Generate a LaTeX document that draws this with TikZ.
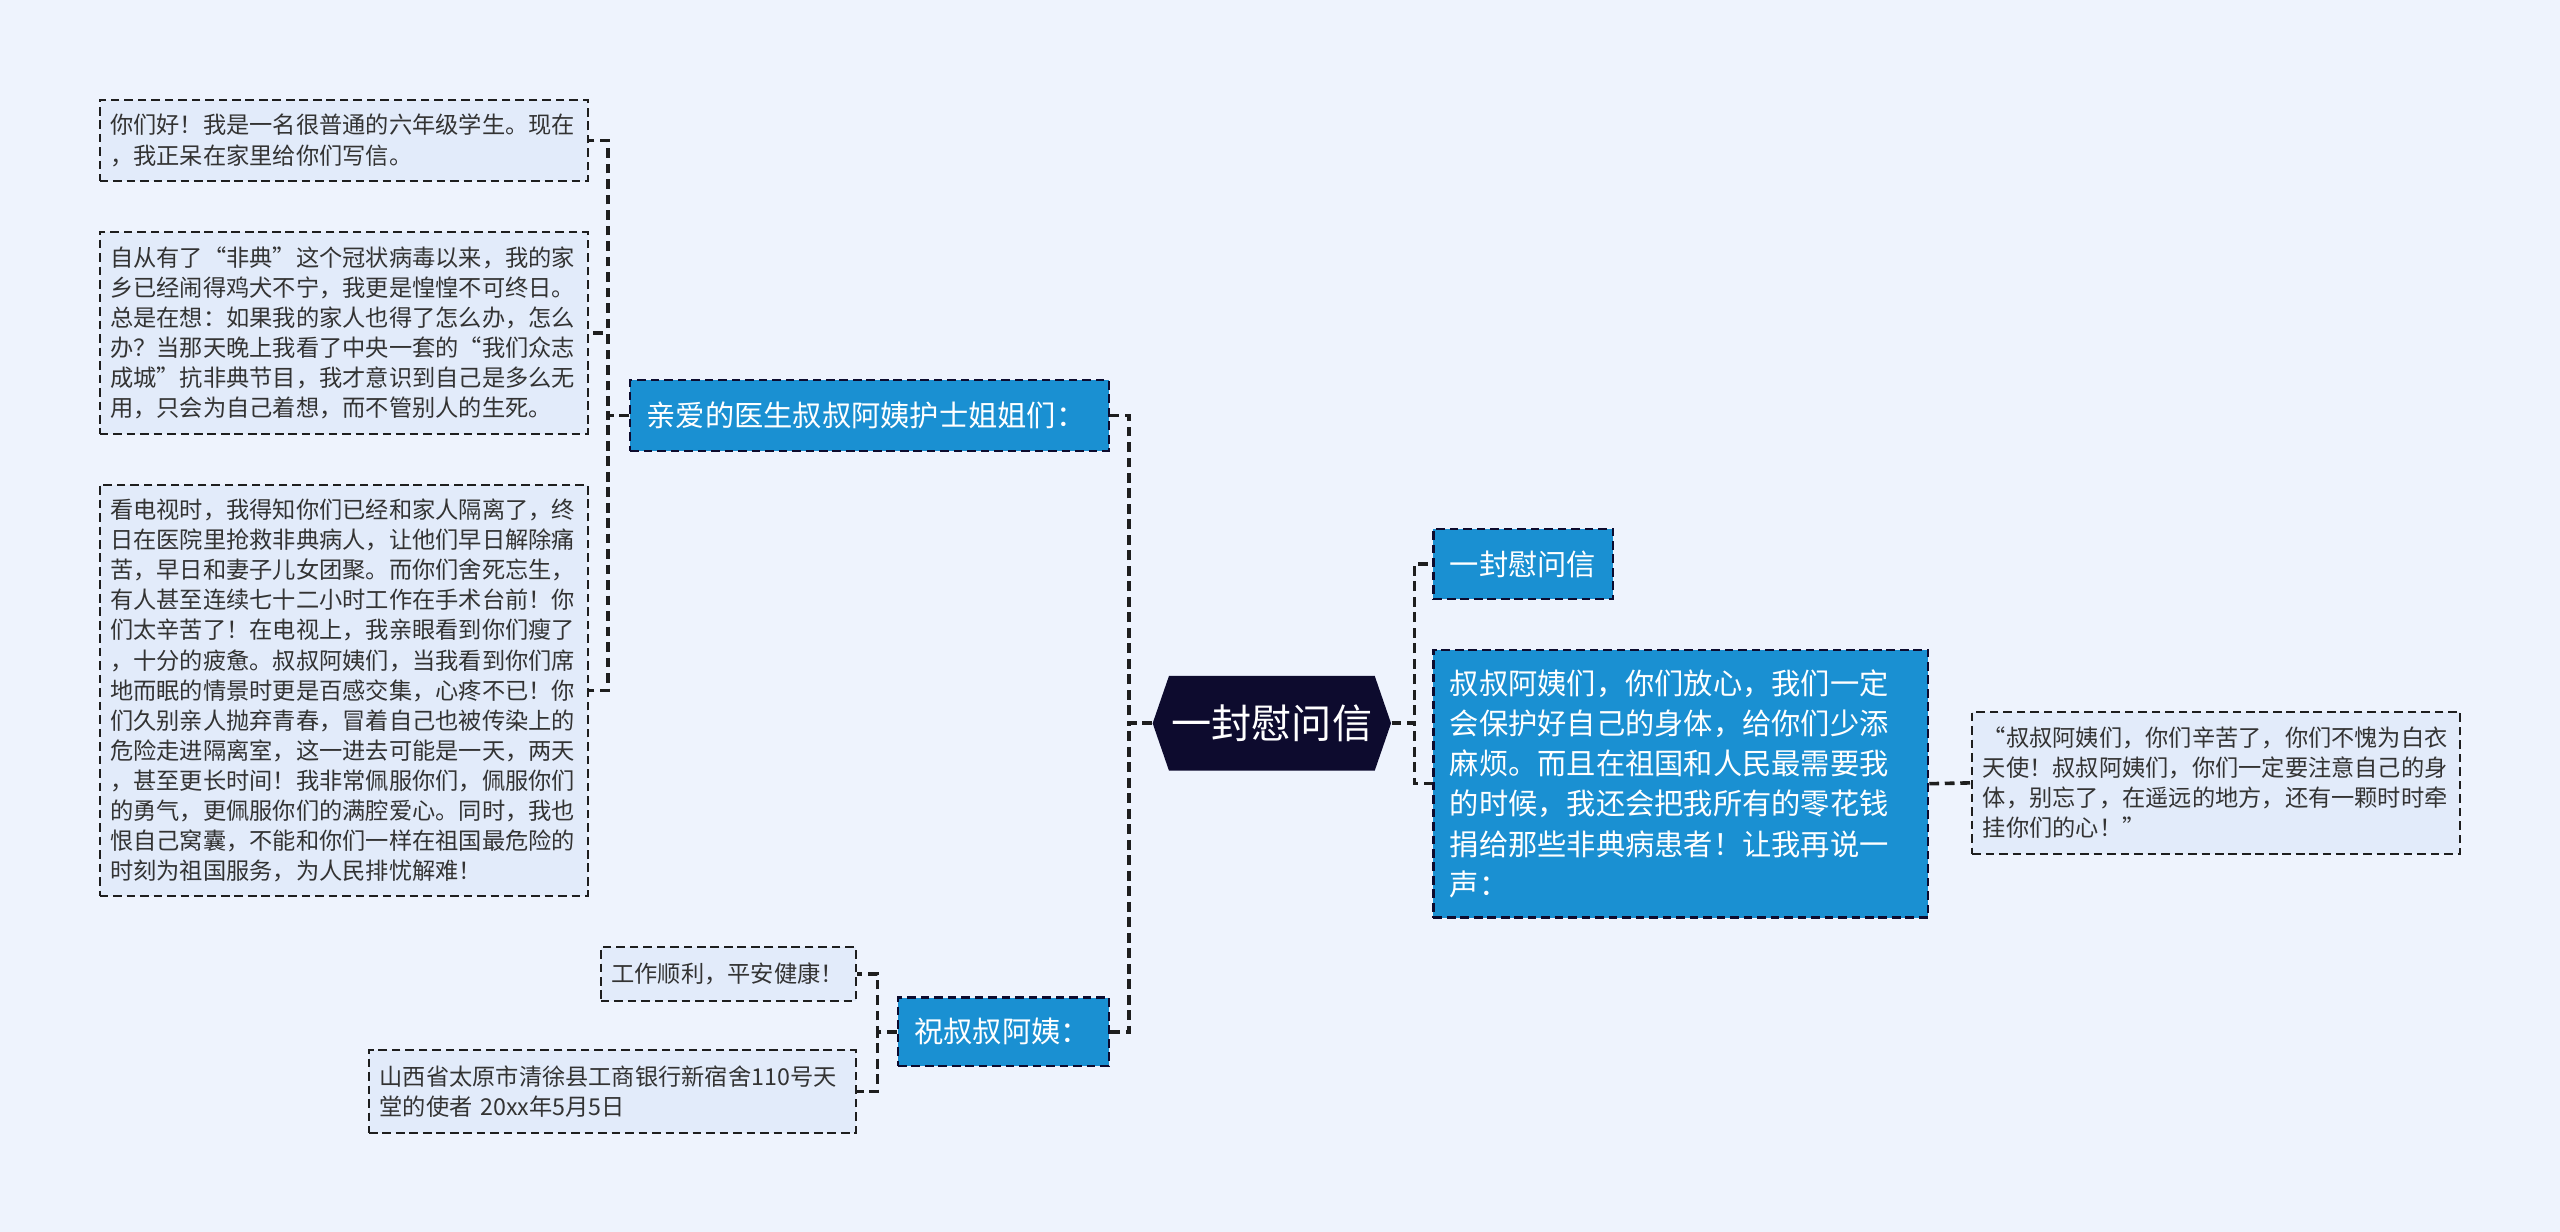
\documentclass[tikz,border=0pt]{standalone}
\usepackage{fontspec}
\setmainfont{Noto Sans CJK SC}
\usetikzlibrary{shapes.symbols}
\definecolor{bgblue}{HTML}{EEF3FD}
\definecolor{leaffill}{HTML}{E2EBFA}
\definecolor{subblue}{HTML}{1A90D2}
\definecolor{rootnavy}{HTML}{0D0B2E}
\definecolor{edgegray}{HTML}{1E1E1E}
\definecolor{textgray}{HTML}{333333}
\begin{document}
\begin{tikzpicture}
            \tikzstyle{every node} = [inner ysep=0pt]
            \tikzstyle{lk} = [draw=edgegray, line width=1.25pt, dash pattern=on 3.4pt off 2pt]
            \tikzstyle{root} = [signal, signal to=west and east, signal pointer angle=142, fill=rootnavy, text=white, font=\fontsize{14}{16}\selectfont, minimum width=2.92cm, minimum height=1.16cm, inner xsep=0pt]
            \tikzstyle{sub} = [draw=rootnavy, line width=0.75pt, dash pattern=on 3pt off 1.7pt, fill=subblue, text=white, font=\fontsize{10.2}{14}\selectfont, align=left, inner xsep=0.2cm]
            \tikzstyle{leaf} = [draw=edgegray, line width=0.7pt, dash pattern=on 3pt off 1.7pt, fill=leaffill, text=textgray, font=\fontsize{8.1}{10.5}\selectfont, align=left, inner xsep=0.13cm]
            \fill[bgblue] (0,0) rectangle (31.36,-15.09);
            \node[root] (c) at (15.58,-8.86) {一封慰问信};
            \node[sub, text width=1.8cm, minimum height=0.86cm] (b1) at (18.66,-6.91) {一封慰问信};
            \node[sub, text width=5.66cm, minimum height=3.28cm] (b2) at (20.59,-9.6) {叔叔阿姨们，你们放心，我们一定\\会保护好自己的身体，给你们少添\\麻烦。而且在祖国和人民最需要我\\的时候，我还会把我所有的零花钱\\捐给那些非典病患者！让我再说一\\声：};
            \node[sub, text width=5.46cm, minimum height=0.86cm] (b3) at (10.65,-5.09) {亲爱的医生叔叔阿姨护士姐姐们：};
            \node[sub, text width=2.18cm, minimum height=0.84cm] (b4) at (12.29,-12.64) {祝叔叔阿姨：};
            \node[leaf, text width=5.72cm, minimum height=1.74cm] (l0) at (27.15,-9.59) {“叔叔阿姨们，你们辛苦了，你们不愧为白衣\\天使！叔叔阿姨们，你们一定要注意自己的身\\体，别忘了，在遥远的地方，还有一颗时时牵\\挂你们的心！”};
            \node[leaf, text width=5.72cm, minimum height=1.0cm] (l1) at (4.21,-1.72) {你们好！我是一名很普通的六年级学生。现在\\，我正呆在家里给你们写信。};
            \node[leaf, text width=5.72cm, minimum height=2.48cm] (l2) at (4.21,-4.08) {自从有了“非典”这个冠状病毒以来，我的家\\乡已经闹得鸡犬不宁，我更是惶惶不可终日。\\总是在想：如果我的家人也得了怎么办，怎么\\办？当那天晚上我看了中央一套的“我们众志\\成城”抗非典节目，我才意识到自己是多么无\\用，只会为自己着想，而不管别人的生死。};
            \node[leaf, text width=5.72cm, minimum height=5.04cm] (l3) at (4.21,-8.46) {看电视时，我得知你们已经和家人隔离了，终\\日在医院里抢救非典病人，让他们早日解除痛\\苦，早日和妻子儿女团聚。而你们舍死忘生，\\有人甚至连续七十二小时工作在手术台前！你\\们太辛苦了！在电视上，我亲眼看到你们瘦了\\，十分的疲惫。叔叔阿姨们，当我看到你们席\\地而眠的情景时更是百感交集，心疼不已！你\\们久别亲人抛弃青春，冒着自己也被传染上的\\危险走进隔离室，这一进去可能是一天，两天\\，甚至更长时间！我非常佩服你们，佩服你们\\的勇气，更佩服你们的满腔爱心。同时，我也\\恨自己窝囊，不能和你们一样在祖国最危险的\\时刻为祖国服务，为人民排忧解难！};
            \node[leaf, text width=2.86cm, minimum height=0.66cm] (l4) at (8.92,-11.93) {工作顺利，平安健康！};
            \node[leaf, text width=5.70cm, minimum height=1.02cm] (l5) at (7.5,-13.37) {山西省太原市清徐县工商银行新宿舍110号天\\堂的使者 20xx年5月5日};
            \draw[lk] (c.east) -- ++(0.28,0) |- (b1.west);
            \draw[lk] (c.east) -- ++(0.28,0) |- (b2.west);
            \draw[lk] (b2.east) -- (l0.west);
            \draw[lk] (c.west) -- ++(-0.28,0) |- (b3.east);
            \draw[lk] (c.west) -- ++(-0.28,0) |- (b4.east);
            \draw[lk] (b3.west) -- ++(-0.26,0) |- (l1.east);
            \draw[lk] (b3.west) -- ++(-0.26,0) |- (l2.east);
            \draw[lk] (b3.west) -- ++(-0.26,0) |- (l3.east);
            \draw[lk] (b4.west) -- ++(-0.24,0) |- (l4.east);
            \draw[lk] (b4.west) -- ++(-0.24,0) |- (l5.east);
\end{tikzpicture}
\end{document}
